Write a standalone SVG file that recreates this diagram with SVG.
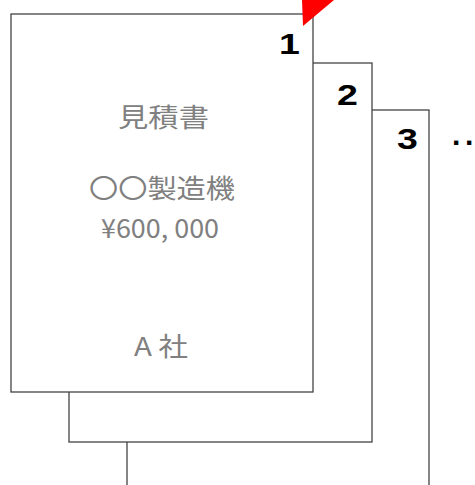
<svg xmlns="http://www.w3.org/2000/svg" width="475" height="485" viewBox="0 0 475 485">
<style>
.page{fill:#fff;stroke:#444;stroke-width:1.3}
.num{font-family:"Liberation Sans",Arial,sans-serif;font-weight:bold;font-size:30px;fill:#000}
.body{font-family:"Noto Sans CJK JP","Noto Sans",sans-serif;font-size:26px;fill:#808080}
</style>
<rect width="475" height="485" fill="#fff"/>
<g id="page3">
<rect class="page" x="127" y="110" width="302" height="400"/>
<text class="num" transform="translate(397,149) scale(1.25,1)">3</text>
</g>
<g id="more">
<text class="num" x="452 465" y="145">..</text>
</g>
<g id="page2">
<rect class="page" x="69" y="63" width="303" height="379"/>
<text class="num" transform="translate(337,105) scale(1.25,1)">2</text>
</g>
<g id="page1">
<rect class="page" x="11" y="14" width="302" height="378"/>
<text class="num" transform="translate(279,54) scale(1.25,1)">1</text>
<text class="body" x="118" y="127" textLength="91" lengthAdjust="spacingAndGlyphs">見積書</text>
<text class="body" x="89" y="198" textLength="146" lengthAdjust="spacingAndGlyphs">〇〇製造機</text>
<text class="body" x="101" y="238" textLength="118" lengthAdjust="spacingAndGlyphs">¥600, 000</text>
<text class="body" x="134" y="356" textLength="54" lengthAdjust="spacingAndGlyphs">A 社</text>
</g>
<g id="connectors">
<polygon points="302,0 334,0 303,26" fill="#ff0000"/>
</g>
</svg>
